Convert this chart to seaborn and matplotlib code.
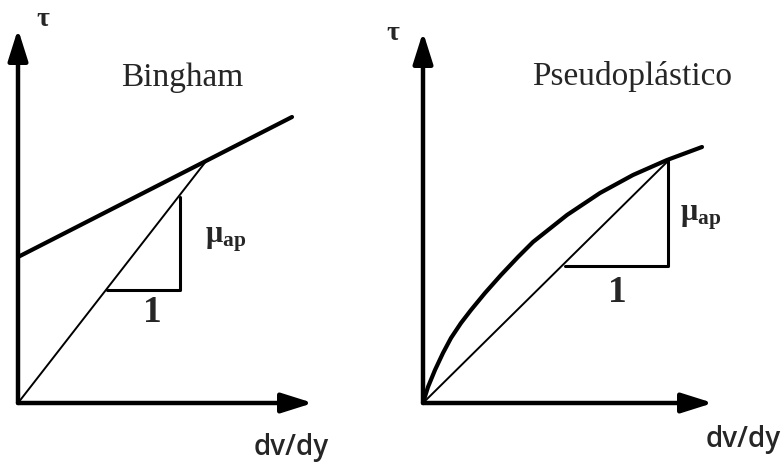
import matplotlib
matplotlib.use("Agg")
import matplotlib.pyplot as plt
import seaborn as sns
from matplotlib.patches import ArrowStyle

sns.set_theme(style="white")
plt.rcParams["mathtext.fontset"] = "custom"
plt.rcParams["mathtext.rm"] = "Liberation Serif"
plt.rcParams["mathtext.it"] = "Liberation Serif"
plt.rcParams["mathtext.bf"] = "Liberation Serif:bold"

# ---- data (units ~ pixels from each origin) ----
bingham_rate = [0, 274]
bingham_tau = [146, 286]
bingham_secant_rate = [0, 189]
bingham_secant_tau = [0, 243]
bingham_tri_rate = [89, 162, 162]
bingham_tri_tau = [113, 113, 206]

pseudo_rate = [0, 5, 12, 20, 28, 38, 48, 62, 78, 95, 110, 144, 177, 210, 244, 279]
pseudo_tau = [0, 16, 33, 50, 65, 80, 93, 110, 128, 146, 161, 188, 210, 228, 243, 256]
pseudo_secant_rate = [0, 244]
pseudo_secant_tau = [0, 241]
pseudo_tri_rate = [142, 245, 245]
pseudo_tri_tau = [137, 137, 242]

titles = ["Bingham", "Pseudoplástico"]
xlabel = "dv/dy"
ylabel = "τ"
slope_label = r"$\mathbf{\mu_{ap}}$"
run_label = "1"

W, H = 784, 463
fig = plt.figure(figsize=(W / 100, H / 100), dpi=100)

def make_ax(ox, oy, w, h):
    ax = fig.add_axes([ox / W, (H - oy) / H, w / W, h / H])
    ax.set_xlim(0, w)
    ax.set_ylim(0, h)
    ax.set_axis_off()
    return ax

axL = make_ax(18, 403, 350, 400)
axR = make_ax(423, 403, 361, 400)

style = ArrowStyle("-|>", head_length=19, head_width=6)

def axes_arrows(ax, xtip, ytip):
    for tip in [(xtip, 0), (0, ytip)]:
        ax.annotate("", xy=tip, xytext=(0, 0),
                    arrowprops=dict(arrowstyle=style, color="black", lw=3.2,
                                    shrinkA=0, shrinkB=0, mutation_scale=1))

def line(ax, x, y, lw):
    sns.lineplot(x=x, y=y, ax=ax, color="black", lw=lw, estimator=None,
                 sort=False, solid_joinstyle="round", solid_capstyle="round")

serif = "Liberation Serif"
sans = ["Open Sans", "DejaVu Sans"]

# Left panel: Bingham
axes_arrows(axL, 295, 374)
line(axL, bingham_rate, bingham_tau, 3.0)
line(axL, bingham_secant_rate, bingham_secant_tau, 1.4)
line(axL, bingham_tri_rate, bingham_tri_tau, 2.2)
axL.text(164, 325, titles[0], fontsize=24, family=serif, ha="center", va="center")
axL.text(187, 163, slope_label, fontsize=22, ha="left", va="center")
axL.text(134, 91, run_label, fontsize=27, family=serif, fontweight="bold", ha="center", va="center")
axL.text(25, 383, ylabel, fontsize=20, family=serif, fontweight="bold", ha="center", va="center")
axL.text(273, -45, xlabel, fontsize=20, family=sans, fontweight="semibold", ha="center", va="center")

# Right panel: Pseudoplastic
axes_arrows(axR, 290, 371)
line(axR, pseudo_rate, pseudo_tau, 3.0)
line(axR, pseudo_secant_rate, pseudo_secant_tau, 1.4)
line(axR, pseudo_tri_rate, pseudo_tri_tau, 2.2)
axR.text(209, 326, titles[1], fontsize=24, family=serif, ha="center", va="center")
axR.text(257, 185, slope_label, fontsize=22, ha="left", va="center")
axR.text(194, 111, run_label, fontsize=27, family=serif, fontweight="bold", ha="center", va="center")
axR.text(-30, 369, ylabel, fontsize=20, family=serif, fontweight="bold", ha="center", va="center")
axR.text(320, -37, xlabel, fontsize=20, family=sans, fontweight="semibold", ha="center", va="center")

fig.savefig("out.png", dpi=100, facecolor="white")
